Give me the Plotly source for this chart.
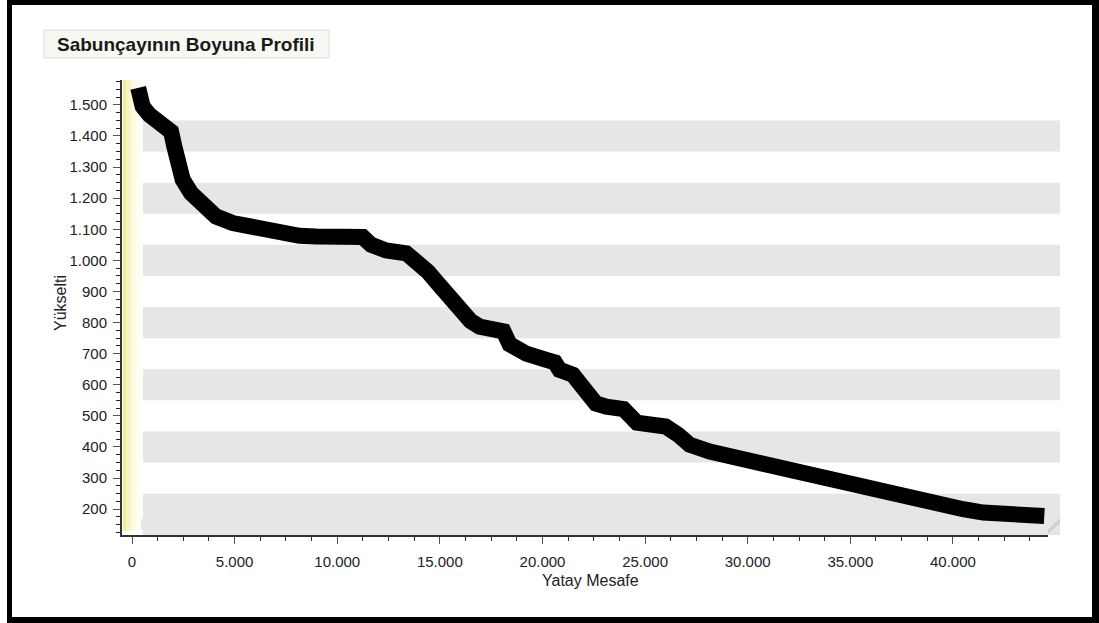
import plotly.graph_objects as go

# Longitudinal profile of the Sabunçay stream: horizontal distance (m) vs elevation (m)
distance = [300, 517, 844, 1248, 1575, 1902, 2063, 2224, 2467, 2877, 3443, 4096,
            4905, 6046, 7343, 8158, 8972, 9782, 10596, 11245, 11654, 12385, 13361,
            13926, 14414, 14823, 15228, 15633, 16120, 16500, 16935, 17583, 18100,
            18400, 19212, 20187, 20600, 20835, 21484, 21811, 22298, 22600, 23113,
            23950, 24600, 25551, 26000, 26600, 27175, 28150, 29613, 30588, 31563,
            32699, 33512, 34487, 35463, 36926, 38228, 39525, 40500, 41476, 42451,
            43427, 44450]
elevation = [1555, 1495, 1468, 1452, 1436, 1414, 1366, 1313, 1260, 1216, 1173, 1141,
             1120, 1104, 1093, 1079, 1077, 1077, 1071, 1075, 1050, 1032, 1023,
             996, 964, 932, 900, 868, 841, 805, 787, 776, 772,
             730, 700, 680, 672, 648, 632, 605, 562, 540, 530,
             522, 478, 471, 466, 440, 407, 385, 362, 346, 335,
             316, 303, 289, 275, 253, 232, 214, 200, 189, 182,
             176, 178]

y_ticks = list(range(200, 1600, 100))
x_ticks = list(range(0, 45000, 5000))
band_ranges = [(1350, 1450), (1150, 1250), (950, 1050), (750, 850), (550, 650), (350, 450), (110, 250)]

title_text = "Sabunçayının Boyuna Profili"
x_title = "Yatay Mesafe"
y_title = "Yükselti"

W, H = 1099, 623
L, R, T, B = 122, 1048, 80, 535  # plot area in pixels


def px(x):
    return (x - L) / (R - L)


def py(y):
    return (B - y) / (B - T)


FONT = "Liberation Sans, Arial, sans-serif"

fig = go.Figure()
fig.add_trace(go.Scatter(
    x=distance, y=elevation, mode="lines",
    line=dict(color="black", width=16),
    hoverinfo="skip", showlegend=False,
))

shapes = []
# alternating bands on the back wall
for lo, hi in band_ranges:
    shapes.append(dict(type="rect", xref="paper", yref="y",
                       x0=px(143), x1=px(1060), y0=lo, y1=hi,
                       fillcolor="#e6e6e6", line=dict(width=0), layer="below"))

# floor slab (top face + right edge)
shapes.append(dict(type="path", xref="paper", yref="paper",
                   path=f"M{px(130)},{py(530)} L{px(1048)},{py(530)} L{px(1060)},{py(518)} L{px(143)},{py(518)} Z",
                   fillcolor="#e6e6e6", line=dict(width=0), layer="below"))
shapes.append(dict(type="path", xref="paper", yref="paper",
                   path=f"M{px(1048)},{py(530)} L{px(1060)},{py(518)} L{px(1060)},{py(523)} L{px(1048)},{py(534)} Z",
                   fillcolor="#cfcfcf", line=dict(width=0), layer="below"))

# yellowish left wall fading to white
wall = [(123, 126, "#efed9a"), (126, 129, "#f5f3b8"), (129, 132, "#f9f8d2"),
        (132, 136, "#fcfbe6"), (136, 141, "#fefef5")]
for x0, x1, c in wall:
    shapes.append(dict(type="rect", xref="paper", yref="paper",
                       x0=px(x0), x1=px(x1), y0=py(531), y1=py(80),
                       fillcolor=c, line=dict(width=0), layer="below"))

# title box
shapes.append(dict(type="rect", xref="paper", yref="paper",
                   x0=px(44), x1=px(329), y0=py(58), y1=py(30),
                   fillcolor="#f8f8f2", line=dict(color="#deded6", width=1)))

# outer black frame
for x0, x1, y0, y1 in [(7, 12, 0, 623), (1092, 1099, 0, 623), (7, 1099, 0, 5), (7, 1099, 617, 623)]:
    shapes.append(dict(type="rect", xref="paper", yref="paper",
                       x0=px(x0), x1=px(x1), y0=py(y1), y1=py(y0),
                       fillcolor="black", line=dict(width=0)))

annotations = [
    dict(text=f"<b>{title_text}</b>", xref="paper", yref="paper",
         x=px(186), y=py(44), xanchor="center", yanchor="middle", showarrow=False,
         font=dict(family=FONT, size=19, color="#1a1a1a")),
    dict(text=x_title, xref="paper", yref="paper",
         x=px(590), y=py(580), xanchor="center", yanchor="middle", showarrow=False,
         font=dict(family=FONT, size=16, color="#222")),
    dict(text=y_title, xref="paper", yref="paper", textangle=-90,
         x=px(60), y=py(303), xanchor="center", yanchor="middle", showarrow=False,
         font=dict(family=FONT, size=16, color="#222")),
]

fig.update_layout(
    width=W, height=H,
    margin=dict(l=L, r=W - R, t=T, b=H - B, pad=0),
    paper_bgcolor="white", plot_bgcolor="white",
    separators=",.",
    shapes=shapes, annotations=annotations,
    showlegend=False,
)

fig.update_xaxes(
    range=[-488, 44632], tickvals=x_ticks, tickformat=",d",
    showgrid=False, zeroline=False,
    showline=True, linecolor="#333", linewidth=2,
    ticks="outside", ticklen=7, tickcolor="#555", tickwidth=1,
    ticklabelstandoff=5,
    minor=dict(dtick=1250, tick0=0, ticks="outside", ticklen=4, tickcolor="#333", showgrid=False),
    tickfont=dict(family=FONT, size=15, color="#222"),
)
fig.update_yaxes(
    range=[117, 1580], tickvals=y_ticks, tickformat=",d",
    showgrid=False, zeroline=False,
    showline=True, linecolor="#333", linewidth=2,
    ticks="outside", ticklen=7, tickcolor="#555", tickwidth=1,
    ticklabelstandoff=3,
    minor=dict(dtick=25, tick0=0, ticks="outside", ticklen=4, tickcolor="#222", showgrid=False),
    tickfont=dict(family=FONT, size=15, color="#222"),
)

fig.write_html("out.html")
